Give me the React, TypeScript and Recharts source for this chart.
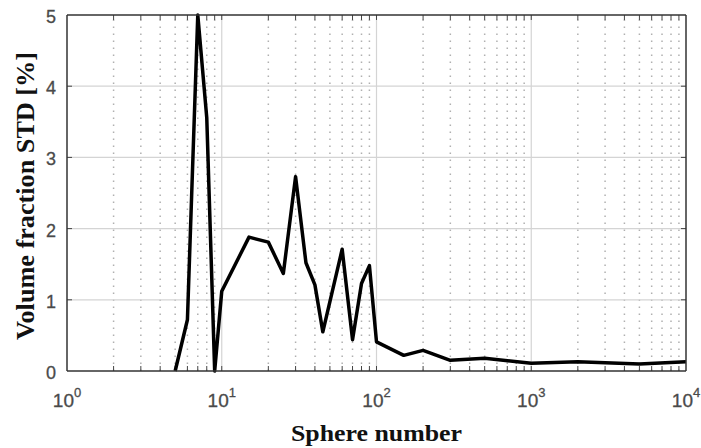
import React from "react";
import { LineChart, Line, XAxis, YAxis, ReferenceLine, Label } from "recharts";

const sphereNumbers = [5, 6, 7, 8, 9, 10, 15, 20, 25, 30, 35, 40, 45, 60, 70, 80, 90, 100, 150, 200, 300, 500, 1000, 2000, 5000, 10000];
const volumeFractionStd = [0, 0.72, 5.0, 3.56, 0, 1.12, 1.88, 1.81, 1.37, 2.73, 1.52, 1.21, 0.55, 1.71, 0.44, 1.23, 1.48, 0.41, 0.22, 0.29, 0.15, 0.18, 0.11, 0.13, 0.1, 0.13];

const xTicks = [1, 10, 100, 1000, 10000];
const yTicks = [0, 1, 2, 3, 4, 5];
const majorGridX = [10, 100, 1000];
const majorGridY = [1, 2, 3, 4];
const minorGridX = [2, 3, 4, 5, 6, 7, 8, 9, 20, 30, 40, 50, 60, 70, 80, 90, 200, 300, 400, 500, 600, 700, 800, 900, 2000, 3000, 4000, 5000, 6000, 7000, 8000, 9000];

const data = sphereNumbers.map((n, i) => ({ n, v: volumeFractionStd[i] }));

const XTick = (props: any) => {
  const { x, y, payload } = props;
  const exp = Math.round(Math.log10(payload.value));
  return (
    <text x={x} y={y + 36} textAnchor="middle" fill="#4a4a4a" fontFamily="'Liberation Sans', Arial, sans-serif" fontSize={19} stroke="#4a4a4a" strokeWidth={0.3}>
      <tspan>10</tspan>
      <tspan dy={-10} fontSize={13}>{exp}</tspan>
    </text>
  );
};

const YTick = (props: any) => {
  const { x, y, payload } = props;
  return (
    <text x={x - 11} y={y + 8} textAnchor="end" fill="#4a4a4a" fontFamily="'Liberation Sans', Arial, sans-serif" fontSize={18} stroke="#4a4a4a" strokeWidth={0.3}>
      {payload.value}
    </text>
  );
};

const tickLen = 0.07;
const xTickLenFactor = Math.pow(10, 5 / 154.75);

export default function App() {
  return (
    <div style={{ position: "absolute", left: 0, top: 0, width: 701, height: 448, background: "#fff" }}>
      <LineChart width={701} height={448} data={data} margin={{ top: 15, right: 15, bottom: 0, left: 0 }}>
        <XAxis
          dataKey="n"
          type="number"
          scale="log"
          domain={[1, 10000]}
          ticks={xTicks}
          allowDataOverflow
          height={77}
          axisLine={false}
          tickLine={false}
          tickSize={0}
          tickMargin={0}
          tick={<XTick />}
          interval={0}
        >
          <Label
            content={() => (
              <text x={376.5} y={441} textAnchor="middle" fill="#111" fontFamily="'Liberation Serif', 'Times New Roman', serif" fontWeight="bold" fontSize={24} textLength={171} lengthAdjust="spacingAndGlyphs">
                Sphere number
              </text>
            )}
          />
        </XAxis>
        <YAxis
          type="number"
          domain={[0, 5]}
          ticks={yTicks}
          width={67}
          axisLine={false}
          tickLine={false}
          tickSize={0}
          tickMargin={0}
          tick={<YTick />}
          interval={0}
        >
          <Label
            content={() => (
              <text x={34} y={196} transform="rotate(-90 34 196)" textAnchor="middle" fill="#111" fontFamily="'Liberation Serif', 'Times New Roman', serif" fontWeight="bold" fontSize={25} textLength={288} lengthAdjust="spacingAndGlyphs">
                Volume fraction STD [%]
              </text>
            )}
          />
        </YAxis>
        {minorGridX.map((v) => (
          <ReferenceLine key={"m" + v} x={v} stroke="#b0b0b0" strokeWidth={1.5} strokeDasharray="1.5 5.5" />
        ))}
        {majorGridX.map((v) => (
          <ReferenceLine key={"gx" + v} x={v} stroke="#d4d4d4" strokeWidth={1.2} />
        ))}
        {majorGridY.map((v) => (
          <ReferenceLine key={"gy" + v} y={v} stroke="#d4d4d4" strokeWidth={1.2} />
        ))}
        {[...majorGridX, ...minorGridX].map((v) => (
          <ReferenceLine key={"tb" + v} segment={[{ x: v, y: 0 }, { x: v, y: tickLen }]} stroke="#444" strokeWidth={1} />
        ))}
        {[...majorGridX, ...minorGridX].map((v) => (
          <ReferenceLine key={"tt" + v} segment={[{ x: v, y: 5 }, { x: v, y: 5 - tickLen }]} stroke="#444" strokeWidth={1} />
        ))}
        {majorGridY.map((v) => (
          <ReferenceLine key={"tl" + v} segment={[{ x: 1, y: v }, { x: xTickLenFactor, y: v }]} stroke="#444" strokeWidth={1} />
        ))}
        {majorGridY.map((v) => (
          <ReferenceLine key={"tr" + v} segment={[{ x: 10000 / xTickLenFactor, y: v }, { x: 10000, y: v }]} stroke="#444" strokeWidth={1} />
        ))}
        <Line
          type="linear"
          dataKey="v"
          stroke="#000"
          strokeWidth={3.5}
          dot={false}
          strokeLinejoin="round"
          isAnimationActive={false}
        />
        <ReferenceLine x={1} stroke="#333" strokeWidth={1.5} />
        <ReferenceLine x={10000} stroke="#333" strokeWidth={1.5} />
        <ReferenceLine y={0} stroke="#333" strokeWidth={1.5} />
        <ReferenceLine y={5} stroke="#333" strokeWidth={1.5} />
      </LineChart>
    </div>
  );
}
